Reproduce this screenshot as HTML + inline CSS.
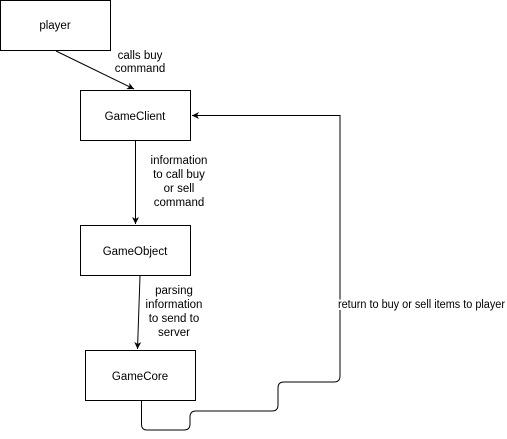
<!DOCTYPE html>
<html><head><style>
body{margin:0;background:#fff;}
svg{display:block;font-family:"Liberation Sans",Arial,sans-serif;font-size:11.5px;}
</style></head><body>
<svg width="507" height="439" viewBox="0 0 507 439">
<defs><marker id="a" markerWidth="8" markerHeight="8" refX="7" refY="4" orient="auto" markerUnits="userSpaceOnUse"><path d="M0,0.5 L7,4 L0,7.5 L2,4 Z" fill="#000"/></marker></defs>
<g fill="#fff" stroke="#000" stroke-width="1">
<rect x="0.5" y="0.5" width="110" height="50"/>
<rect x="80.5" y="90.5" width="110" height="50"/>
<rect x="80.5" y="225.5" width="110" height="50"/>
<rect x="85.5" y="350.5" width="110" height="50"/>
</g>
<g stroke="#000" fill="none" stroke-width="1">
<line x1="56" y1="51" x2="134" y2="89" marker-end="url(#a)"/>
<line x1="135.5" y1="141" x2="135.5" y2="224" marker-end="url(#a)"/>
<line x1="140" y1="276" x2="137.5" y2="349" marker-end="url(#a)"/>
<path d="M141.5,401 V424 Q141.5,430 147,430 H184 Q190,430 190,424 V417 Q190,411 196,411 H272 Q278,411 278,405 V388 Q278,382 284,382 H334 Q340,382 340,376 V115.5 H192" marker-end="url(#a)"/>
</g>
<g fill="#000" text-anchor="middle">
<text x="55" y="29">player</text>
<text x="135" y="120">GameClient</text>
<text x="135" y="255">GameObject</text>
<text x="140" y="380">GameCore</text>
<text x="140" y="59">calls buy</text>
<text x="140" y="72">command</text>
<text x="179" y="164">information</text>
<text x="179" y="178">to call buy</text>
<text x="179" y="192">or sell</text>
<text x="179" y="206">command</text>
<text x="174" y="294">parsing</text>
<text x="174" y="308">information</text>
<text x="174" y="322">to send to</text>
<text x="174" y="336">server</text>
<text x="338" y="308" text-anchor="start" textLength="167" lengthAdjust="spacingAndGlyphs" style="paint-order:stroke" stroke="#fff" stroke-width="4">return to buy or sell items to player</text>
</g>
</svg>
</body></html>
